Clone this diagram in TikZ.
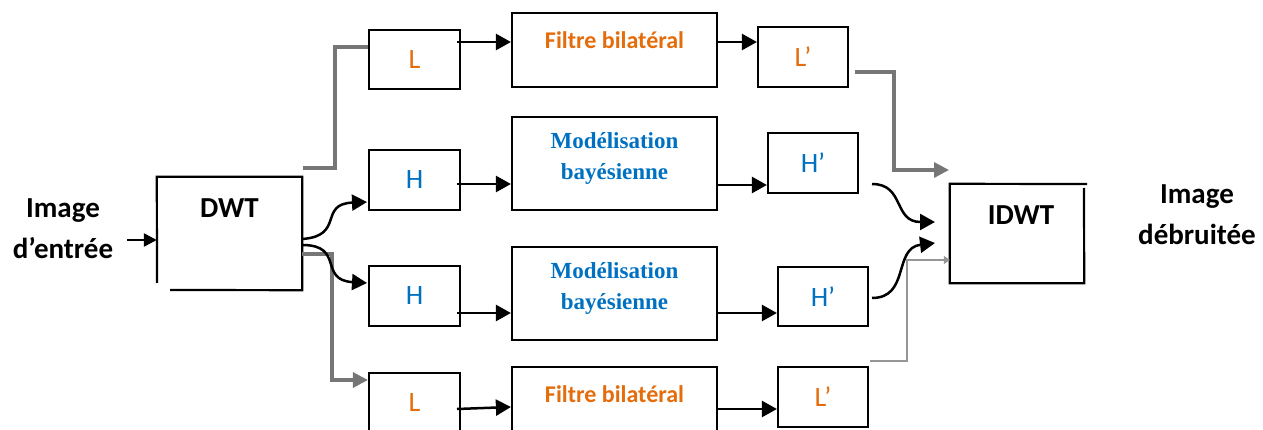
\documentclass[tikz,border=0pt]{standalone}
\usepackage{fontspec}
\setmainfont{Carlito}
\newfontfamily\timesfont{Liberation Serif}
\usetikzlibrary{arrows.meta,calc}
\definecolor{org}{RGB}{228,108,10}
\definecolor{blu}{RGB}{0,112,192}
\definecolor{gry}{RGB}{118,118,118}
\definecolor{lgry}{RGB}{150,150,150}
\begin{document}
\begin{tikzpicture}[x=1pt,y=-1pt,
  box/.style={draw=black, line width=2.2pt, inner sep=0pt},
  sbox/.style={box, minimum width=91pt, minimum height=60pt, font=\fontsize{28}{32}\selectfont},
  wbox/.style={box, minimum width=205pt},
  ftxt/.style={text=org, font=\fontsize{24}{28}\selectfont\bfseries, inner sep=0pt},
  mtxt/.style={text=blu, font=\timesfont\fontsize{23}{31}\selectfont\bfseries, align=center, inner sep=0pt},
  btxt/.style={font=\fontsize{29}{41}\selectfont\bfseries, align=center, inner sep=0pt},
  tip/.style={-{Triangle[length=15pt,width=16pt]}},
  arr/.style={line width=2.5pt, tip},
  garr/.style={draw=gry, line width=3.2pt, -{Triangle[length=15pt,width=15pt]}},
  gline/.style={draw=gry, line width=3.2pt}
]
\useasboundingbox (0,0) rectangle (1263,430);

% DWT box with open corner
\node[minimum width=145pt, minimum height=113pt, inner sep=0pt] (DWT) at (229.5,233.5) {};
\draw[line width=2.2pt] (157,283) -- (DWT.north west) -- (DWT.north east) -- (DWT.south east) -- (170,290);
\node[btxt] (DWTt) at (229.5,208.5) {DWT};

% IDWT box
\node[minimum width=134pt, minimum height=99pt, inner sep=0pt] (IDWT) at (1017,233.5) {};
\draw[line width=2.2pt] (1084,188) -- (IDWT.south east) -- (IDWT.south west) -- (IDWT.north west) -- (1087,184);
\node[btxt] (IDWTt) at (1021,215) {IDWT};

% input / output labels
\node[btxt] (in) at (63,229) {Image\\d’entrée};
\node[btxt] (out) at (1197,215) {Image\\débruitée};
\coordinate (inA) at (127,240);

% first column
\node[sbox, minimum height=59pt, text=org] (L1) at (414.5,59.5) {L};
\node[sbox, text=blu] (H2) at (414.5,180) {H};
\node[sbox, text=blu] (H3) at (414.5,296) {H};
\node[sbox, text=org] (L4) at (414.5,403) {L};

% second column
\node[wbox, minimum height=74pt] (F1) at (614.5,50) {};
\node[ftxt] (F1t) at (614.5,40) {Filtre bilatéral};
\node[wbox, minimum height=93pt] (M2) at (614.5,163.5) {};
\node[mtxt] (M2t) at (614.5,158) {Modélisation\\bayésienne};
\node[wbox, minimum height=93pt] (M3) at (614.5,293.5) {};
\node[mtxt] (M3t) at (614.5,288) {Modélisation\\bayésienne};
\node[wbox, minimum height=74pt] (F4) at (614.5,404) {};
\node[ftxt] (F4t) at (614.5,394) {Filtre bilatéral};

% third column
\node[sbox, minimum width=90pt, text=org] (Lp1) at (803,57) {L’};
\node[sbox, minimum width=90pt, text=blu] (Hp2) at (813,163) {H’};
\node[sbox, minimum width=90pt, minimum height=59pt, text=blu] (Hp3) at (823,296.5) {H’};
\node[sbox, minimum width=90pt, text=org] (Lp4) at (823,397) {L’};

% input arrow
\draw[line width=2.5pt, -{Triangle[length=13pt,width=13pt]}] (inA) -- (DWT.west |- inA);

% DWT outputs
\coordinate (g1s) at (303,168);
\draw[gline] (g1s) -- (335,168) -- (335,47) -- (L1.west |- 0,47);
\draw[garr] (DWT.east |- 0,254) -- (332,254) -- (332,380) -- (L4.west |- 0,380);
\draw[arr] (DWT.east |- 0,239) .. controls (345,236) and (318,204) .. (367,202);
\draw[arr] (DWT.east |- 0,245) .. controls (345,245) and (318,280) .. (367,283);

% row arrows
\draw[arr] (457,42) -- (F1.west |- 0,42);
\draw[arr] (F1.east |- 0,42) -- (Lp1.west |- 0,42);
\draw[arr] (457,184) -- (M2.west |- 0,184);
\draw[arr] (M2.east |- 0,185) -- (Hp2.west |- 0,185);
\draw[arr] (457,313) -- (M3.west |- 0,313);
\draw[arr] (M3.east |- 0,313) -- (Hp3.west |- 0,313);
\draw[arr] (457,409) -- (F4.west |- 0,407);
\draw[arr] (F4.east |- 0,409) -- (Lp4.west |- 0,409);

% to IDWT
\coordinate (g3e) at (949,170);
\draw[garr] (855,72) -- (894,72) -- (894,170) -- (g3e);
\draw[arr] (872,184) .. controls (905,184) and (893,222) .. (935,222);
\draw[arr] (872,298) .. controls (910,298) and (893,248) .. (935,243);
\draw[draw=lgry, line width=2.8pt, -{Triangle[length=6pt,width=8pt]}] (870,361) -- (907,361) -- (907,260) -- (IDWT.west |- 0,260);
\end{tikzpicture}
\end{document}
